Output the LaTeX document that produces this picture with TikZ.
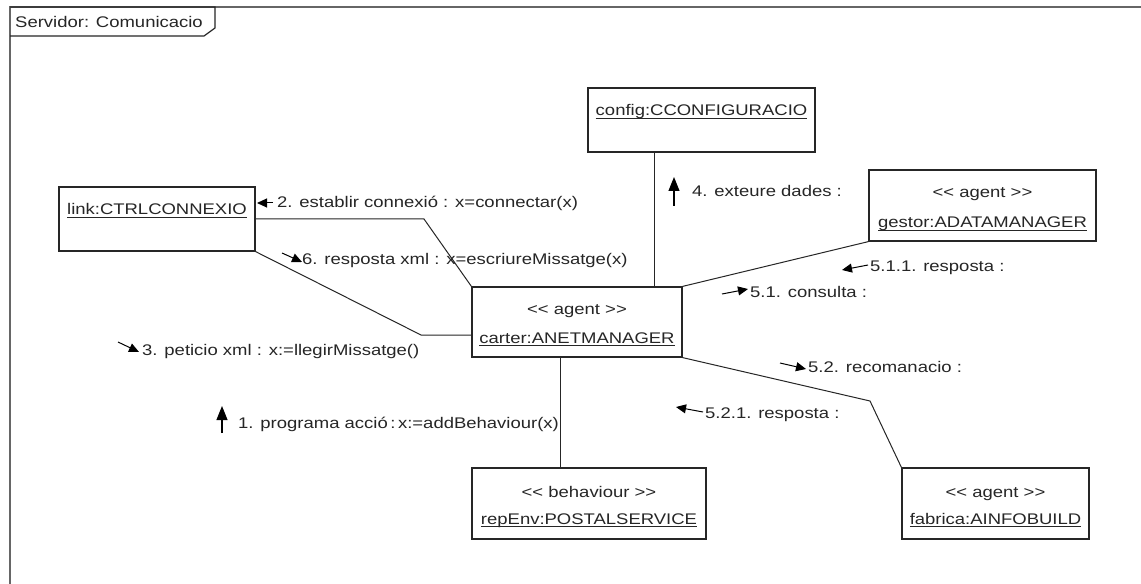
\documentclass[tikz,border=0pt]{standalone}
\usepackage{fontspec}
\setmainfont{Liberation Sans}[FakeStretch=1.2]
\usetikzlibrary{arrows.meta}
% underlined object name with a rule a little below the baseline
\newcommand\objname[1]{\setbox0\hbox{#1}\rlap{\raisebox{-3bp}{\rule{\wd0}{0.9bp}}}\box0}
% stereotype brackets kept as two separate characters
\newcommand\stereo[1]{<\kern0pt< #1 >\kern0pt>}
\begin{document}
\begin{tikzpicture}[x=1bp,y=-1bp,
  every node/.style={font=\fontsize{15.4bp}{18bp}\selectfont, text=black!85},
  objbox/.style={draw=black!85, line width=1.2bp, rectangle, inner sep=0pt},
  txt/.style={inner sep=0pt, anchor=base},
  lbl/.style={inner sep=0pt, anchor=base west},
  link/.style={draw=black!85, line width=1bp},
  msg/.style={line width=1bp, draw=black, -{Triangle[length=10bp,width=9bp]}},
  bigmsg/.style={line width=1.1bp, draw=black, -{Triangle[length=14bp,width=11bp]}}]
\useasboundingbox (0,0) rectangle (1141,584);
\fill[white] (0,0) rectangle (1141,584);

% frame and its name tab
\draw[black!60, line width=1.6bp] (10,584) -- (10,7) -- (1141,7);
\draw[black!85, line width=1.2bp] (10,7) -- (215,7) -- (215,28) -- (204,36) -- (10,36);
\node[lbl] (frame) at (15,28) {Servidor: Comunicacio};

% objects
\node[objbox, minimum width=227bp, minimum height=64bp] (config) at (701.5,120) {};
\node[txt] (configt) at (701.5,116) {\objname{config:CCONFIGURACIO}};

\node[objbox, minimum width=196bp, minimum height=64bp] (link) at (157,219) {};
\node[txt] (linkt) at (157,215) {\objname{link:CTRLCONNEXIO}};

\node[objbox, minimum width=210bp, minimum height=70bp] (carter) at (577,322) {};
\node[txt] (cartera) at (577,315) {\stereo{agent}};
\node[txt] (cartert) at (577,343) {\objname{carter:ANETMANAGER}};

\node[objbox, minimum width=227bp, minimum height=71bp] (gestor) at (982.5,205.5) {};
\node[txt] (gestora) at (982.5,198) {\stereo{agent}};
\node[txt] (gestort) at (982.5,228) {\objname{gestor:ADATAMANAGER}};

\node[objbox, minimum width=234bp, minimum height=71bp] (rep) at (589,503.5) {};
\node[txt] (repa) at (589,497) {\stereo{behaviour}};
\node[txt] (rept) at (589,524) {\objname{repEnv:POSTALSERVICE}};

\node[objbox, minimum width=187bp, minimum height=71bp] (fabrica) at (995.5,503.5) {};
\node[txt] (fabricaa) at (995.5,497) {\stereo{agent}};
\node[txt] (fabricat) at (995.5,524) {\objname{fabrica:AINFOBUILD}};

% bend points and offsets of the links
\coordinate (b1) at (424,219);
\coordinate (b2) at (421,335);
\coordinate (b3) at (870,401);
\coordinate (cx) at (654,0);
\coordinate (rx) at (560,0);

% links
\draw[link] (link.east) -- (b1) -- (carter.north west);
\draw[link] (link.south east) -- (b2) -- (b2 -| carter.west);
\draw[link] (cx |- config.south) -- (cx |- carter.north);
\draw[link] (carter.north east) -- (gestor.south west);
\draw[link] (rx |- carter.south) -- (rx |- rep.north);
\draw[link] (carter.south east) -- (b3) -- (fabrica.north west);

% messages
\draw[msg] (273,203) -- (257,203);
\node[lbl] (m2) at (277,208) {2. establir connexió : x=connectar(x)};

\draw[msg] (282,253) -- (302,262);
\node[lbl] (m6) at (302,265) {6. resposta xml : x=escriureMissatge(x)};

\draw[msg] (118,342) -- (139,352);
\node[lbl] (m3) at (142,355) {3. peticio xml : x:=llegirMissatge()};

\draw[bigmsg] (674,206) -- (674,177);
\node[lbl] (m4) at (692,197) {4. exteure dades :};

\draw[msg] (868,265) -- (842,270);
\node[lbl] (m511) at (870,272) {5.1.1. resposta :};

\draw[msg] (722,294) -- (748,289);
\node[lbl] (m51) at (750,298) {5.1. consulta :};

\draw[msg] (780,363) -- (806,369);
\node[lbl] (m52) at (808,372) {5.2. recomanacio :};

\draw[msg] (703,412) -- (676,407);
\node[lbl] (m521) at (705,418) {5.2.1. resposta :};

\draw[bigmsg] (222,433) -- (222,406);
\node[lbl] (m1) at (238,428) {1. programa acció\,:\,x:=addBehaviour(x)};
\end{tikzpicture}
\end{document}
